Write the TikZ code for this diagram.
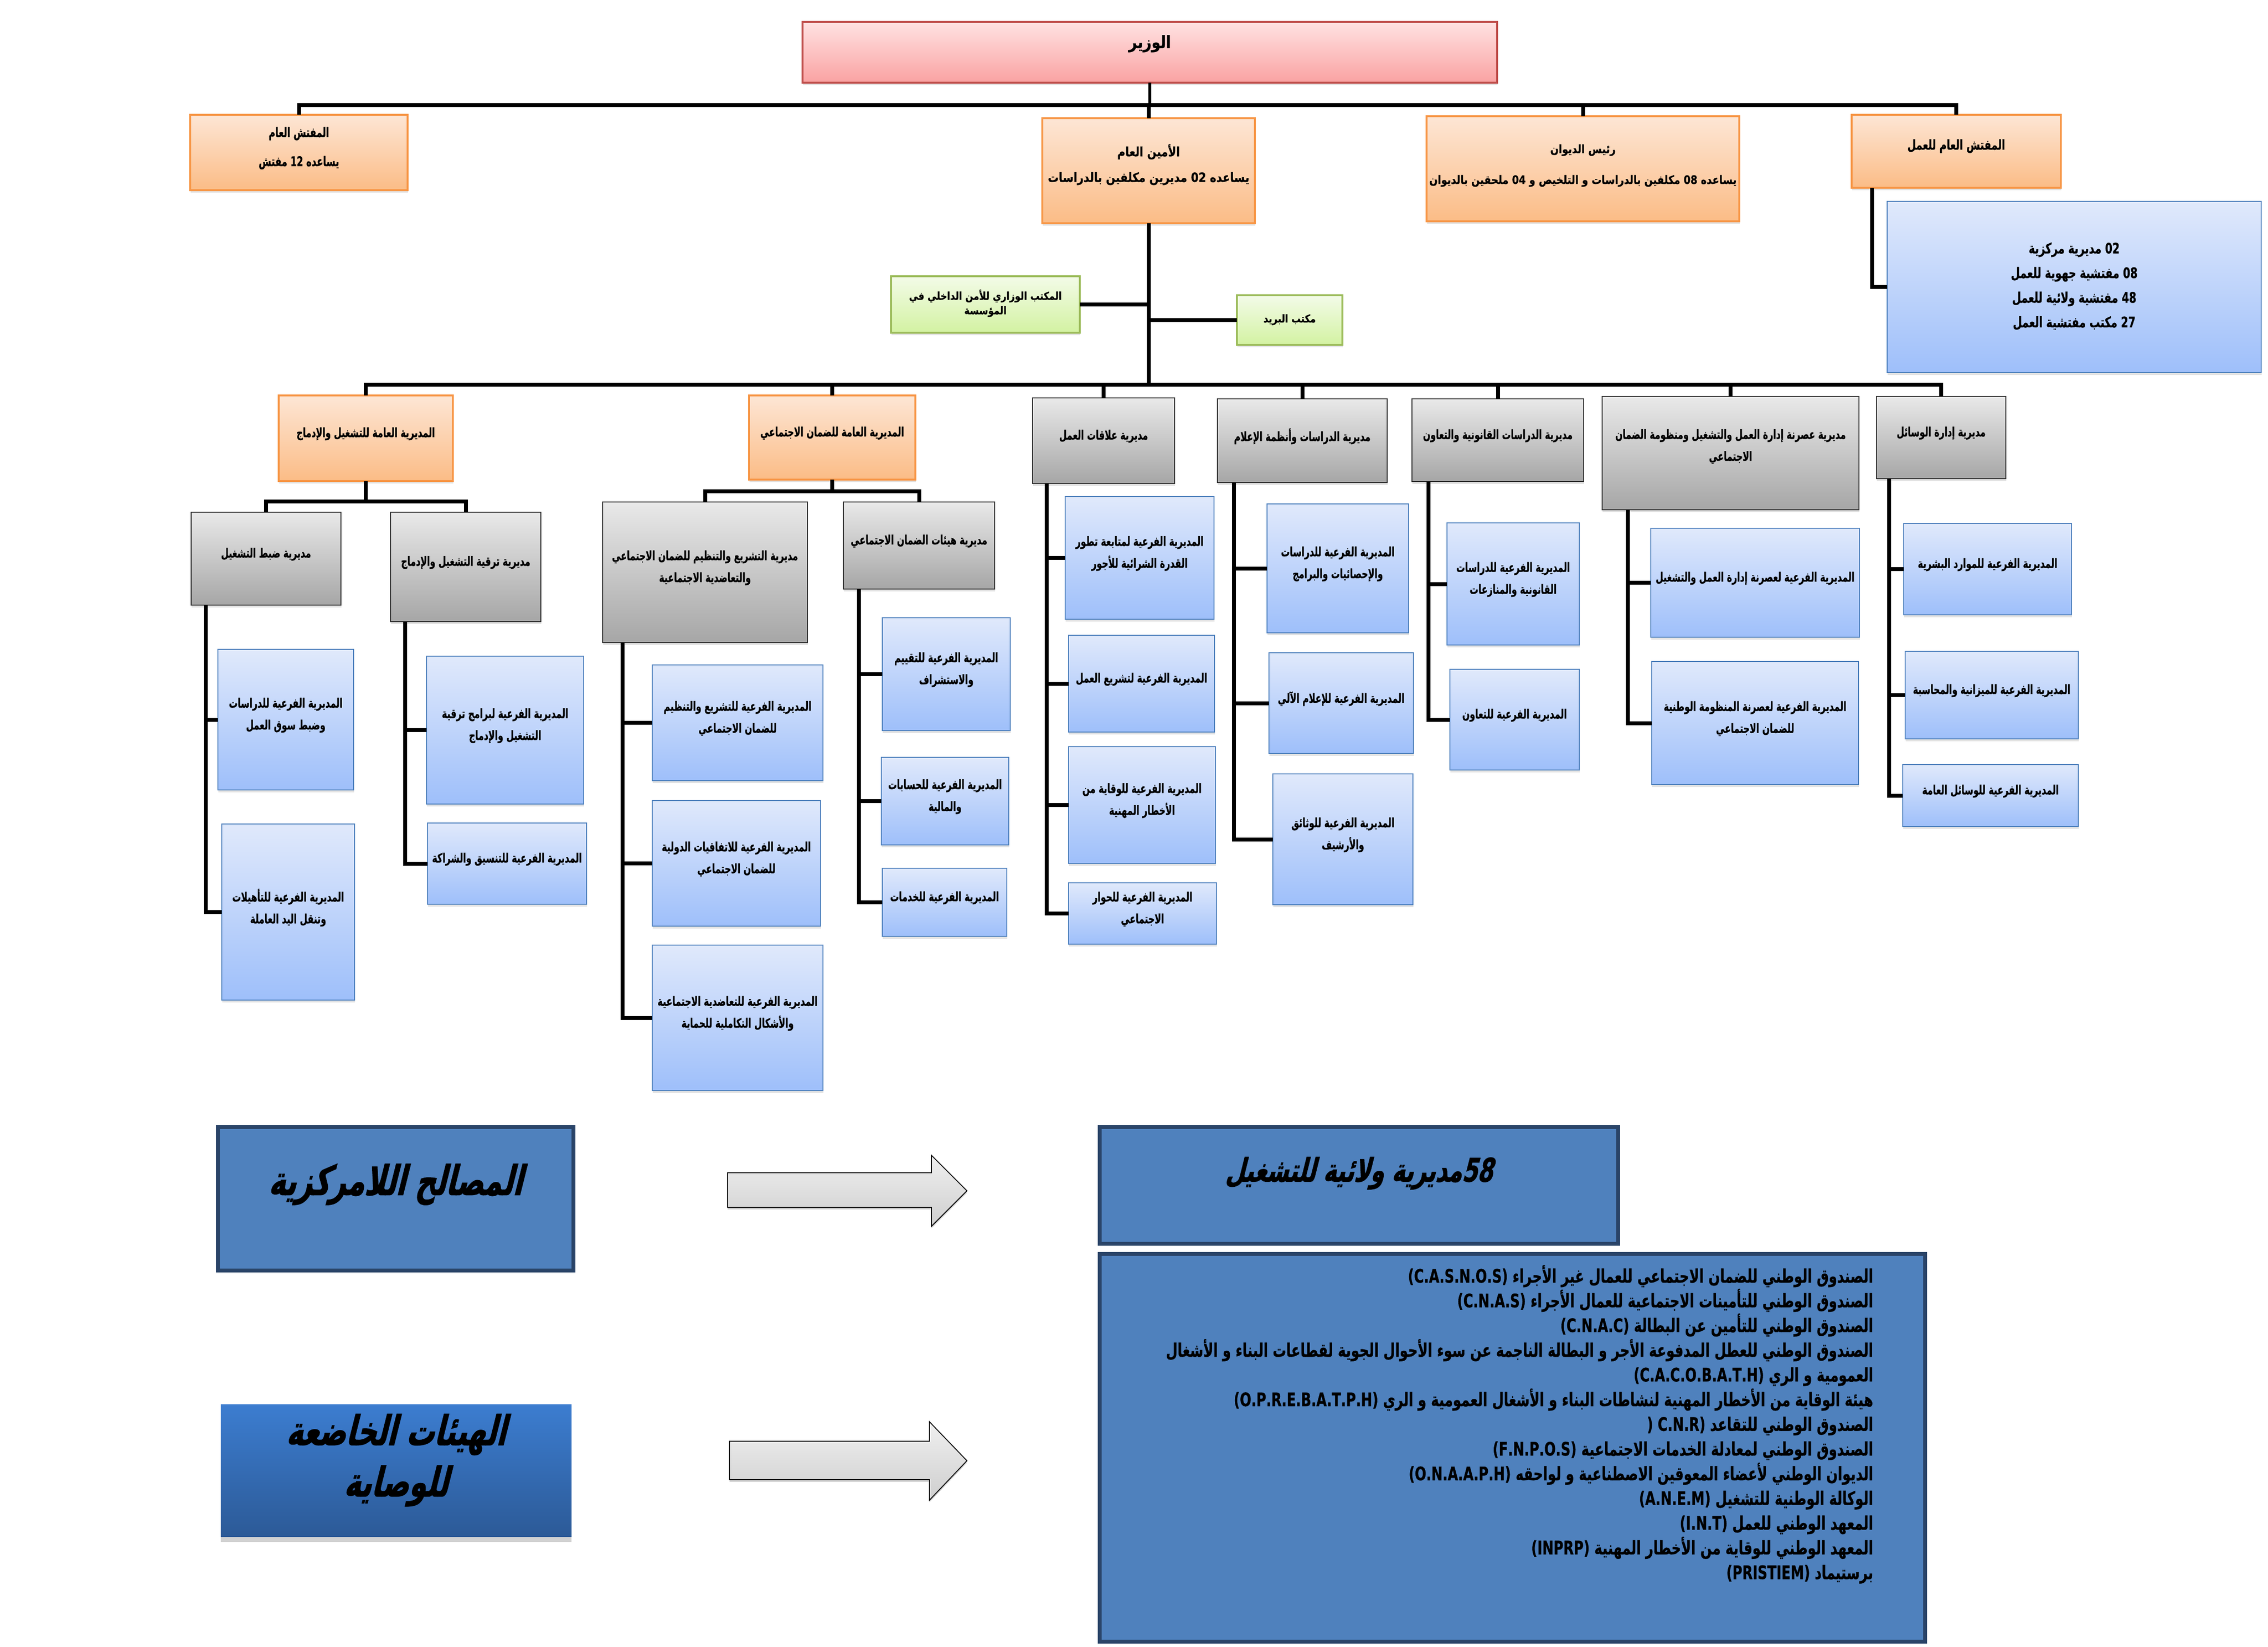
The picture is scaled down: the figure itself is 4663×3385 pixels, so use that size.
\documentclass[tikz,border=0pt]{standalone}
\usepackage{fontspec}
\TeXXeTstate=1
\newfontfamily\arb[Script=Arabic,FakeStretch=0.85,FakeBold=0.8]{DejaVu Sans Bold}
\newfontfamily\arbn[Script=Arabic,FakeStretch=0.68,FakeBold=0.8]{DejaVu Sans Bold}
\newfontfamily\arbc[Script=Arabic,FakeStretch=0.72,FakeBold=0.8]{DejaVu Sans Bold}
\newfontfamily\arbi[Script=Arabic,FakeStretch=0.68,FakeSlant=0.25,FakeBold=1.5]{DejaVu Sans Bold}
\usetikzlibrary{shadows}
\newcommand\AR[1]{\beginR #1\endR}
\newcommand\LR[1]{\beginL #1\endL{}}
% box: style, name, x1, y1, x2, y2, text
\newcommand\bx[7]{\node[#1, minimum width={(#5-#3)*0.1mm}, minimum height={(#6-#4)*0.1mm}] (#2) at ({(#3+#5)/2},{(#4+#6)/2}) {#7};}
\definecolor{orD}{HTML}{F79646}\definecolor{orT}{HTML}{FDE6D5}\definecolor{orBo}{HTML}{FBBC86}
\definecolor{gyD}{HTML}{303030}\definecolor{gyT}{HTML}{E9E9E9}\definecolor{gyBo}{HTML}{A6A6A6}
\definecolor{blD}{HTML}{4F81BD}\definecolor{blT}{HTML}{E0E9FB}\definecolor{blBo}{HTML}{9EBFFA}
\definecolor{rdD}{HTML}{C0504D}\definecolor{rdT}{HTML}{FFE2E2}\definecolor{rdBo}{HTML}{FAA2A2}
\definecolor{grD}{HTML}{9BBB59}\definecolor{grT}{HTML}{F3FBE8}\definecolor{grBo}{HTML}{D3F2A2}
\definecolor{dkF}{HTML}{4F81BD}\definecolor{dkD}{HTML}{2A4468}
\definecolor{hyT}{HTML}{3C7DD0}\definecolor{hyBo}{HTML}{2C5A97}
\begin{document}
\begin{tikzpicture}[x=0.1mm,y=-0.1mm,
  conn/.style={line width=0.8mm, black},
  base/.style={rectangle, inner sep=0pt, outer sep=0pt, align=center, text=black,
     font=\arbn\fontsize{7.5}{12.8}\selectfont, text depth=7pt,
     drop shadow={shadow xshift=0.4pt, shadow yshift=-1.3pt, opacity=0.22}},
  boxor/.style={base, draw=orD, line width=0.9pt, top color=orT, bottom color=orBo},
  boxgy/.style={base, draw=gyD, line width=0.8pt, top color=gyT, bottom color=gyBo},
  boxbl/.style={base, draw=blD, line width=0.8pt, top color=blT, bottom color=blBo},
  boxrd/.style={base, draw=rdD, line width=0.9pt, top color=rdT, bottom color=rdBo},
  boxgr/.style={base, draw=grD, line width=0.9pt, top color=grT, bottom color=grBo},
  boxdk/.style={rectangle, inner sep=0pt, outer sep=0pt, fill=dkF, draw=dkD, line width=2.4pt},
  boxhy/.style={rectangle, inner sep=0pt, outer sep=0pt, top color=hyT, bottom color=hyBo,
     drop shadow={shadow xshift=0pt, shadow yshift=-3pt, opacity=0.35}},
  bigar/.style={draw=black, line width=0.5pt, top color=gray!12, bottom color=gray!38,
     drop shadow={shadow xshift=0pt, shadow yshift=-1.2pt, opacity=0.4}},
  head/.style={font=\arbi\fontsize{24}{30}\selectfont, align=center, text=black}
]
\fill[white] (0,0) rectangle (4663,3385);
\useasboundingbox (0,0) rectangle (4663,3385);

% ---------- top level ----------
\bx{boxrd, font=\arb\fontsize{10}{12}\selectfont, text depth=12.5pt}{min}{1650}{45}{3078}{170}{\AR{الوزير}}
\bx{boxor, font=\arbn\fontsize{7.8}{17}\selectfont}{ig}{391}{236}{838}{391}{\AR{المفتش العام}\\\AR{يساعده \LR{12} مفتش}}
\bx{boxor, font=\arb\fontsize{7.5}{15}\selectfont, text depth=9pt}{sg}{2143}{243}{2580}{459}{\AR{الأمين العام}\\\AR{يساعده \LR{02} مديرين مكلفين بالدراسات}}
\bx{boxor, font=\arb\fontsize{6.8}{18}\selectfont, text depth=5.5pt}{rd}{2933}{239}{3576}{455}{\AR{رئيس الديوان}\\\AR{يساعده \LR{08} مكلفين بالدراسات و التلخيص و \LR{04} ملحقين بالديوان}}
\bx{boxor, font=\arbc\fontsize{8}{12}\selectfont, text depth=8pt}{il}{3807}{236}{4237}{386}{\AR{المفتش العام للعمل}}
\bx{boxbl, font=\arbc\fontsize{8.5}{14.4}\selectfont, text depth=2.5pt}{ilb}{3880}{414}{4649}{766}{\AR{\LR{02} مديرية مركزية}\\\AR{\LR{08} مفتشية جهوية للعمل}\\\AR{\LR{48} مفتشية ولائية للعمل}\\\AR{\LR{27} مكتب مفتشية العمل}}
\bx{boxgr, font=\arb\fontsize{6.3}{8.5}\selectfont, text depth=3pt}{g1}{1832}{568}{2220}{684}{\AR{المكتب الوزاري للأمن الداخلي في}\\\AR{المؤسسة}}
\bx{boxgr, font=\arb\fontsize{6.3}{8.5}\selectfont, text depth=2pt}{g2}{2543}{607}{2760}{709}{\AR{مكتب البريد}}

% ---------- directorates ----------
\bx{boxor}{d1}{573}{813}{931}{989}{\AR{المديرية العامة للتشغيل والإدماج}}
\bx{boxor}{d2}{1540}{813}{1882}{986}{\AR{المديرية العامة للضمان الاجتماعي}}
\bx{boxgy}{d3}{2123}{818}{2415}{994}{\AR{مديرية علاقات العمل}}
\bx{boxgy}{d4}{2503}{820}{2852}{992}{\AR{مديرية الدراسات وأنظمة الإعلام}}
\bx{boxgy}{d5}{2903}{820}{3256}{990}{\AR{مديرية الدراسات القانونية والتعاون}}
\bx{boxgy, text depth=9.5pt}{d6}{3294}{815}{3822}{1048}{\AR{مديرية عصرنة إدارة العمل والتشغيل ومنظومة الضمان}\\\AR{الاجتماعي}}
\bx{boxgy}{d7}{3858}{815}{4124}{984}{\AR{مديرية إدارة الوسائل}}

\bx{boxgy}{d11}{393}{1053}{701}{1244}{\AR{مديرية ضبط التشغيل}}
\bx{boxgy}{d12}{803}{1053}{1112}{1278}{\AR{مديرية ترقية التشغيل والإدماج}}
\bx{boxgy}{d21}{1239}{1032}{1660}{1321}{\AR{مديرية التشريع والتنظيم للضمان الاجتماعي}\\\AR{والتعاضدية الاجتماعية}}
\bx{boxgy}{d22}{1734}{1032}{2045}{1211}{\AR{مديرية هيئات الضمان الاجتماعي}}

% ---------- sub-directorates ----------
\bx{boxbl}{s111}{448}{1335}{727}{1624}{\AR{المديرية الفرعية للدراسات}\\\AR{وضبط سوق العمل}}
\bx{boxbl}{s112}{456}{1694}{729}{2056}{\AR{المديرية الفرعية للتأهيلات}\\\AR{وتنقل اليد العاملة}}
\bx{boxbl}{s121}{877}{1349}{1200}{1653}{\AR{المديرية الفرعية لبرامج ترقية}\\\AR{التشغيل والإدماج}}
\bx{boxbl}{s122}{879}{1692}{1206}{1859}{\AR{المديرية الفرعية للتنسيق والشراكة}}
\bx{boxbl}{s211}{1341}{1367}{1692}{1605}{\AR{المديرية الفرعية للتشريع والتنظيم}\\\AR{للضمان الاجتماعي}}
\bx{boxbl}{s212}{1341}{1646}{1687}{1904}{\AR{المديرية الفرعية للاتفاقيات الدولية}\\\AR{للضمان الاجتماعي}}
\bx{boxbl}{s213}{1341}{1943}{1692}{2242}{\AR{المديرية الفرعية للتعاضدية الاجتماعية}\\\AR{والأشكال التكاملية للحماية}}
\bx{boxbl}{s221}{1814}{1270}{2077}{1502}{\AR{المديرية الفرعية للتقييم}\\\AR{والاستشراف}}
\bx{boxbl}{s222}{1812}{1557}{2074}{1737}{\AR{المديرية الفرعية للحسابات}\\\AR{والمالية}}
\bx{boxbl}{s223}{1814}{1785}{2070}{1925}{\AR{المديرية الفرعية للخدمات}}
\bx{boxbl}{s31}{2190}{1021}{2496}{1273}{\AR{المديرية الفرعية لمتابعة تطور}\\\AR{القدرة الشرائية للأجور}}
\bx{boxbl}{s32}{2197}{1306}{2497}{1505}{\AR{المديرية الفرعية لتشريع العمل}}
\bx{boxbl}{s33}{2197}{1535}{2499}{1775}{\AR{المديرية الفرعية للوقاية من}\\\AR{الأخطار المهنية}}
\bx{boxbl}{s34}{2197}{1815}{2501}{1941}{\AR{المديرية الفرعية للحوار}\\\AR{الاجتماعي}}
\bx{boxbl}{s41}{2605}{1036}{2896}{1301}{\AR{المديرية الفرعية للدراسات}\\\AR{والإحصائيات والبرامج}}
\bx{boxbl}{s42}{2609}{1342}{2906}{1549}{\AR{المديرية الفرعية للإعلام الآلي}}
\bx{boxbl}{s43}{2617}{1591}{2905}{1860}{\AR{المديرية الفرعية للوثائق}\\\AR{والأرشيف}}
\bx{boxbl}{s51}{2975}{1075}{3247}{1326}{\AR{المديرية الفرعية للدراسات}\\\AR{القانونية والمنازعات}}
\bx{boxbl}{s52}{2981}{1376}{3247}{1583}{\AR{المديرية الفرعية للتعاون}}
\bx{boxbl}{s61}{3394}{1086}{3823}{1310}{\AR{المديرية الفرعية لعصرنة إدارة العمل والتشغيل}}
\bx{boxbl}{s62}{3396}{1360}{3821}{1613}{\AR{المديرية الفرعية لعصرنة المنظومة الوطنية}\\\AR{للضمان الاجتماعي}}
\bx{boxbl}{s71}{3914}{1076}{4259}{1264}{\AR{المديرية الفرعية للموارد البشرية}}
\bx{boxbl}{s72}{3917}{1339}{4273}{1519}{\AR{المديرية الفرعية للميزانية والمحاسبة}}
\bx{boxbl}{s73}{3912}{1572}{4273}{1699}{\AR{المديرية الفرعية للوسائل العامة}}

% ---------- connectors ----------
\coordinate (bar1) at (0,216);
\coordinate (bar2) at (0,791);
\coordinate (bar3) at (0,1031);
\coordinate (bar4) at (0,1010);
\draw[line width=0.6mm] (min.south) -- (min.south |- bar1);
\draw[conn] (ig.north) |- (bar1 -| il.north) -- (il.north);
\draw[conn] (sg.north) -- (sg.north |- bar1);
\draw[conn] (rd.north) -- (rd.north |- bar1);
\draw[conn] (il.south west) ++(42,0) |- (ilb.west);
\draw[conn] (sg.south) -- (sg.south |- bar2);
\draw[conn] (g1.east) -- (g1.east -| sg.south);
\draw[conn] (g2.west) -- (g2.west -| sg.south);
\draw[conn] (d1.north) |- (bar2 -| d7.north) -- (d7.north);
\foreach \d in {d2,d3,d4,d5,d6} \draw[conn] (\d.north) -- (\d.north |- bar2);
\draw[conn] (d1.south) -- (d1.south |- bar3);
\draw[conn] (d11.north) |- (bar3 -| d12.north) -- (d12.north);
\draw[conn] (d2.south) -- (d2.south |- bar4);
\draw[conn] (d21.north) |- (bar4 -| d22.north) -- (d22.north);
\foreach \c in {s111,s112} \draw[conn] (d11.south west) ++(30,0) |- (\c.west);
\foreach \c in {s121,s122} \draw[conn] (d12.south west) ++(30,0) |- (\c.west);
\foreach \c in {s211,s212,s213} \draw[conn] (d21.south west) ++(41,0) |- (\c.west);
\foreach \c in {s221,s222,s223} \draw[conn] (d22.south west) ++(32,0) |- (\c.west);
\foreach \c in {s31,s32,s33,s34} \draw[conn] (d3.south west) ++(29,0) |- (\c.west);
\foreach \c in {s41,s42,s43} \draw[conn] (d4.south west) ++(34,0) |- (\c.west);
\foreach \c in {s51,s52} \draw[conn] (d5.south west) ++(34,0) |- (\c.west);
\foreach \c in {s61,s62} \draw[conn] (d6.south west) ++(53,0) |- (\c.west);
\foreach \c in {s71,s72,s73} \draw[conn] (d7.south west) ++(26,0) |- (\c.west);

% ---------- bottom section ----------
\bx{boxdk}{mas}{448}{2317}{1179}{2612}{}
\node[head] (mast) at (813,2435) {\AR{المصالح اللامركزية}};
\bx{boxhy}{hay}{454}{2887}{1175}{3159}{}
\node[head] (hayt) at (814,3002) {\AR{الهيئات الخاضعة}\\\AR{للوصاية}};

\filldraw[bigar] (1496,2411) -- (1915,2411) -- (1915,2375) -- (1988,2448) -- (1915,2521) -- (1915,2482) -- (1496,2482) -- cycle;
\filldraw[bigar] (1500,2963) -- (1911,2963) -- (1911,2923) -- (1988,3003) -- (1911,3084) -- (1911,3042) -- (1500,3042) -- cycle;

\bx{boxdk}{b58}{2261}{2317}{3327}{2557}{}
\node[head, font=\arbi\fontsize{19}{22}\selectfont] (b58t) at (2794,2412) {\AR{\LR{58}مديرية ولائية للتشغيل}};

\bx{boxdk}{lst}{2261}{2578}{3958}{3375}{}
\node[anchor=north east, align=right, inner sep=0pt, font=\arbc\fontsize{10.9}{14.45}\selectfont] (lstt) at (3852,2600) {%
\AR{الصندوق الوطني للضمان الاجتماعي للعمال غير الأجراء \LR{(C.A.S.N.O.S)}}\\
\AR{الصندوق الوطني للتأمينات الاجتماعية للعمال الأجراء \LR{(C.N.A.S)}}\\
\AR{الصندوق الوطني للتأمين عن البطالة \LR{(C.N.A.C)}}\\
\AR{الصندوق الوطني للعطل المدفوعة الأجر و البطالة الناجمة عن سوء الأحوال الجوية لقطاعات البناء و الأشغال}\\
\AR{العمومية و الري \LR{(C.A.C.O.B.A.T.H)}}\\
\AR{هيئة الوقاية من الأخطار المهنية لنشاطات البناء و الأشغال العمومية و الري \LR{(O.P.R.E.B.A.T.P.H)}}\\
\AR{الصندوق الوطني للتقاعد \LR{( C.N.R)}}\\
\AR{الصندوق الوطني لمعادلة الخدمات الاجتماعية \LR{(F.N.P.O.S)}}\\
\AR{الديوان الوطني لأعضاء المعوقين الاصطناعية و لواحقه \LR{(O.N.A.A.P.H)}}\\
\AR{الوكالة الوطنية للتشغيل \LR{(A.N.E.M)}}\\
\AR{المعهد الوطني للعمل \LR{(I.N.T)}}\\
\AR{المعهد الوطني للوقاية من الأخطار المهنية \LR{(INPRP)}}\\
\AR{برستيماد \LR{(PRISTIEM)}}};
\end{tikzpicture}
\end{document}
